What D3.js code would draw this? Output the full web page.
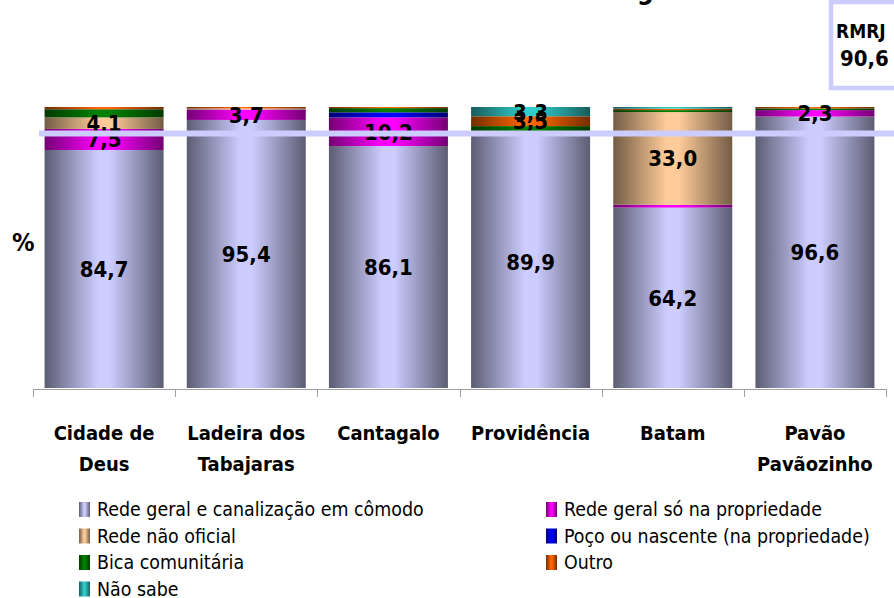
<!DOCTYPE html>
<html><head><meta charset="utf-8">
<script src="https://cdn.jsdelivr.net/npm/d3@7"></script>
<style>body{margin:0;background:#fff}svg{display:block}</style>
</head><body><svg id="c" width="894" height="598"></svg>
<script>
const categories = [["Cidade de","Deus"],["Ladeira dos","Tabajaras"],["Cantagalo"],["Providência"],["Batam"],["Pavão","Pavãozinho"]];
const seriesNames = ["Rede geral e canalização em cômodo","Rede geral só na propriedade","Rede não oficial","Poço ou nascente (na propriedade)","Bica comunitária","Outro","Não sabe"];
const seriesColors = ["#ccccff","#ff00ff","#ffcc99","#0000ff","#008000","#ff6600","#33cccc"];
const canalizacao   = [84.7, 95.4, 86.1, 89.9, 64.2, 96.6];
const soPropriedade = [7.5, 3.7, 10.2, 0, 1.0, 2.3];
const naoOficial    = [4.1, 0.4, 0, 0, 33.0, 0];
const poco          = [0, 0, 1.8, 0, 0, 0];
const bica          = [2.9, 0, 1.5, 3.3, 0.7, 0.6];
const outro         = [0.8, 0.5, 0.4, 3.5, 0.5, 0.5];
const naoSabe       = [0, 0, 0, 3.3, 0.6, 0];
// [category index, series index] of the values written on the bars
const shownLabels = [[0,0],[0,1],[0,2],[1,0],[1,1],[2,0],[2,1],[3,0],[3,5],[3,6],[4,0],[4,2],[5,0],[5,1]];
const rmrjValue = 90.6;
const rmrjLabel = ["RMRJ","90,6"];
const yLabel = "%";
const titleText = "Forma de abastecimento de água";

const series = [canalizacao, soPropriedade, naoOficial, poco, bica, outro, naoSabe];
const svg = d3.select("#c");
const FONT = "'DejaVu Sans Condensed','DejaVu Sans',sans-serif";

const x = d3.scaleBand().domain(d3.range(categories.length)).range([33, 886]).paddingInner(0.163).paddingOuter(0.0815);
const y = d3.scaleLinear().domain([0, 100]).range([388, 107]);

// gradients
const defs = svg.append("defs");
seriesColors.forEach((c, i) => {
  const g = defs.append("linearGradient").attr("id", "g" + i).attr("x1", 0).attr("x2", 1).attr("y1", 0).attr("y2", 0);
  const dark = d3.interpolateRgb(c, "#000")(0.55);
  g.append("stop").attr("offset", 0).attr("stop-color", dark);
  g.append("stop").attr("offset", 0.45).attr("stop-color", c);
  g.append("stop").attr("offset", 0.55).attr("stop-color", c);
  g.append("stop").attr("offset", 1).attr("stop-color", dark);
});

// title (cut off at the top)
const t = svg.append("text").attr("y", -1).attr("font-family", FONT).attr("font-weight", "bold")
  .attr("font-size", 26).attr("fill", "#000").text(titleText);
const gi = titleText.indexOf("g", titleText.length - 5);
const gx = t.node().getStartPositionOfChar(gi).x;
t.attr("x", 637 - gx);

// stacked data
const rows = categories.map((c, i) => { const o = {i}; series.forEach((s, k) => o[k] = s[i]); return o; });
const stack = d3.stack().keys(d3.range(series.length))(rows);

const gBars = svg.append("g");
stack.forEach((layer, k) => {
  gBars.selectAll(null).data(layer).join("rect")
    .attr("x", d => x(d.data.i)).attr("width", x.bandwidth())
    .attr("y", d => y(d[1])).attr("height", d => Math.max(0, y(d[0]) - y(d[1])))
    .attr("fill", `url(#g${k})`);
});

// value labels
const fmt = v => v.toFixed(1).replace(".", ",");
svg.append("g").selectAll(null).data(shownLabels).join("text")
  .attr("x", d => x(d[0]) + x.bandwidth() / 2)
  .attr("y", d => { const s = stack[d[1]][d[0]]; return (y(s[0]) + y(s[1])) / 2 + 8; })
  .attr("text-anchor", "middle").attr("font-family", FONT).attr("font-weight", "bold")
  .attr("font-size", 22).attr("fill", "#000")
  .text(d => fmt(series[d[1]][d[0]]));

// RMRJ reference line
svg.append("line").attr("x1", 39).attr("x2", 894).attr("y1", y(rmrjValue)).attr("y2", y(rmrjValue))
  .attr("stroke", "#ccccff").attr("stroke-width", 6);

// RMRJ box
svg.append("rect").attr("x", 831).attr("y", 2).attr("width", 80).attr("height", 86)
  .attr("fill", "#fff").attr("stroke", "#ccccff").attr("stroke-width", 4.5);
svg.append("text").attr("x", 836).attr("y", 38).attr("font-family", FONT).attr("font-weight", "bold")
  .attr("font-size", 19).text(rmrjLabel[0]);
svg.append("text").attr("x", 840).attr("y", 66).attr("font-family", FONT).attr("font-weight", "bold")
  .attr("font-size", 22).text(rmrjLabel[1]);

// x axis
const axis = svg.append("g");
axis.append("line").attr("x1", 33).attr("x2", 886).attr("y1", 389.5).attr("y2", 389.5).attr("stroke", "#a0a0a0");
const bounds = d3.range(categories.length + 1).map(i => 33 + i * x.step());
axis.selectAll(null).data(bounds).join("line")
  .attr("x1", d => Math.round(d) + 0.5).attr("x2", d => Math.round(d) + 0.5)
  .attr("y1", 389).attr("y2", 397).attr("stroke", "#a0a0a0");
axis.selectAll(null).data(categories).join("text")
  .attr("text-anchor", "middle").attr("font-family", FONT).attr("font-weight", "bold")
  .attr("font-size", 20).attr("fill", "#000")
  .each(function (d, i) {
    d3.select(this).selectAll("tspan").data(d).join("tspan")
      .attr("x", x(i) + x.bandwidth() / 2).attr("y", (s, j) => 440 + j * 31).text(s => s);
  });

// y label
svg.append("text").attr("x", 12).attr("y", 251).attr("font-family", FONT).attr("font-weight", "bold")
  .attr("font-size", 25).text(yLabel);

// legend
const lg = svg.append("g");
seriesNames.forEach((n, k) => {
  const col = k % 2, row = Math.floor(k / 2);
  const lx = col ? 546 : 79, ly = 510 + row * 26.5;
  lg.append("rect").attr("x", lx).attr("y", ly - 8).attr("width", 11).attr("height", 15).attr("fill", `url(#g${k})`);
  lg.append("text").attr("x", lx + 18).attr("y", ly + 6).attr("font-family", FONT)
    .attr("font-size", 19.4).attr("fill", "#000").text(n);
});
</script></body></html>
